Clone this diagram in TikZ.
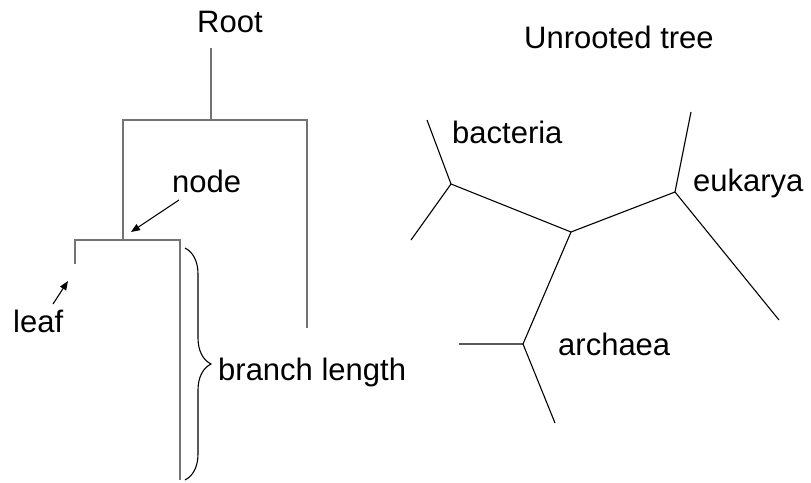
\documentclass[tikz,border=0pt]{standalone}
\usepackage{fontspec}
\setmainfont{Liberation Sans}
\usetikzlibrary{arrows.meta,decorations.pathreplacing}
\begin{document}
\begin{tikzpicture}[x=1pt,y=-1pt,
  lbl/.style={anchor=base west,inner sep=0pt,font=\fontsize{31}{36}\selectfont},
  rtree/.style={draw=black!55,line width=1.8pt},
  utree/.style={draw=black,line width=1.1pt},
  pointer/.style={draw=black,line width=1.1pt,-{Triangle[length=9pt,width=7pt]}}]
\useasboundingbox (0,0) rectangle (811,482);
% rooted tree
\coordinate (rtop) at (211,48);
\coordinate (rjoin) at (211,120);
\coordinate (rl) at (123,120);
\coordinate (rr) at (307,120);
\coordinate (rrend) at (307,328);
\coordinate (n1) at (123,240);
\coordinate (n1l) at (75,240);
\coordinate (n1r) at (180,240);
\coordinate (leafend) at (75,264);
\coordinate (longend) at (180,480);
\draw[rtree] (rtop) -- (rjoin);
\draw[rtree] (n1) -- (rl) -- (rr) -- (rrend);
\draw[rtree] (leafend) -- (n1l) -- (n1r) -- (longend);
% labels
\node[lbl] (root) at (197,32) {Root};
\node[lbl] (unr) at (524,48) {Unrooted tree};
\node[lbl] (nodelbl) at (172,192) {node};
\node[lbl] (leaflbl) at (13,332) {leaf};
\node[lbl] (bl) at (218,380) {branch length};
% arrows
\coordinate (na1) at (179,200);
\coordinate (na2) at (131,232);
\draw[pointer] (na1) -- (na2);
\coordinate (la1) at (53,304);
\coordinate (la2) at (68,281);
\draw[pointer] (la1) -- (la2);
% brace
\coordinate (bt) at (185,248);
\coordinate (bb) at (185,480);
\draw[black,line width=1.1pt,decorate,decoration={brace,amplitude=26pt}] (bt) -- (bb);
% unrooted tree
\coordinate (C) at (571,232);
\coordinate (B) at (451,184);
\coordinate (B1) at (427,120);
\coordinate (B2) at (411,240);
\coordinate (E) at (675,192);
\coordinate (E1) at (691,112);
\coordinate (E2) at (779,320);
\coordinate (A) at (523,344);
\coordinate (A1) at (459,344);
\coordinate (A2) at (555,423);
\draw[utree] (B) -- (C) -- (E);
\draw[utree] (C) -- (A);
\draw[utree] (B1) -- (B) -- (B2);
\draw[utree] (E1) -- (E) -- (E2);
\draw[utree] (A1) -- (A) -- (A2);
\node[lbl] (bac) at (452,143) {bacteria};
\node[lbl] (euk) at (693,191) {eukarya};
\node[lbl] (arc) at (558,355) {archaea};
\end{tikzpicture}
\end{document}
